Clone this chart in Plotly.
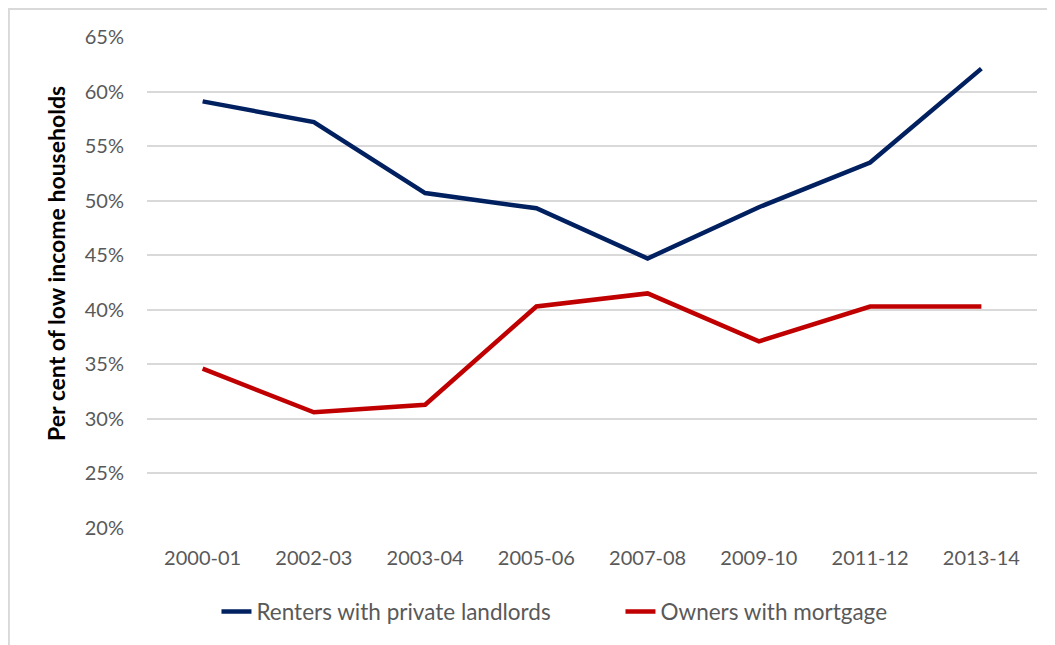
import plotly.graph_objects as go

categories = ["2000-01", "2002-03", "2003-04", "2005-06", "2007-08", "2009-10", "2011-12", "2013-14"]
renters = [0.591, 0.572, 0.507, 0.493, 0.447, 0.494, 0.535, 0.621]
owners = [0.346, 0.306, 0.313, 0.403, 0.415, 0.371, 0.403, 0.403]
y_ticks = [0.20, 0.25, 0.30, 0.35, 0.40, 0.45, 0.50, 0.55, 0.60, 0.65]

# page has an 8px body margin; figure sized to fit window
W, H = 1047, 637
ML, MR, MT, MB = 139, 18, 29, 117
pw, ph = W - ML - MR, H - MT - MB

fig = go.Figure()
fig.add_trace(go.Scatter(x=categories, y=renters, mode="lines", name="Renters with private landlords",
                         line=dict(color="#002060", width=4.5)))
fig.add_trace(go.Scatter(x=categories, y=owners, mode="lines", name="Owners with mortgage",
                         line=dict(color="#C00000", width=4.5)))

font_family = "Lato, Open Sans, Noto Sans, sans-serif"

fig.update_layout(
    width=W, height=H,
    margin=dict(l=ML, r=MR, t=MT, b=MB),
    paper_bgcolor="white", plot_bgcolor="white",
    font=dict(family=font_family, color="#595959", size=20),
    showlegend=True,
    legend=dict(orientation="h", x=0.532, xanchor="center", y=-0.171, yanchor="middle",
                font=dict(size=22.5, color="#595959"), entrywidth=359, tracegroupgap=0),
    xaxis=dict(type="category", range=[-0.5, 7.5], showgrid=False, zeroline=False,
               showline=False, ticks="", tickfont=dict(size=20, color="#595959"),
               ticklabelstandoff=16),
    yaxis=dict(range=[0.20, 0.65], tickvals=y_ticks, tickformat=".0%",
               showgrid=True, gridcolor="#D9D9D9", gridwidth=1.5, zeroline=False,
               showline=False, ticks="", tickfont=dict(size=20, color="#595959"),
               ticklabelstandoff=22),
)

fig.add_annotation(text="<b>Per cent of low income households</b>", xref="paper", yref="paper",
                   x=(48 - ML) / pw, y=(H - MB - 256) / ph, xanchor="center", yanchor="middle",
                   textangle=-90, showarrow=False, font=dict(size=23, color="black", family=font_family))

# outer chart border (cropped on right and bottom in the reference)
fig.add_shape(type="rect", xref="paper", yref="paper", x0=-ML / pw + 0.001, x1=(W + 20 - ML) / pw,
              y0=-(MB + 20) / ph, y1=(H - MB - 1) / ph, line=dict(color="#D9D9D9", width=2),
              fillcolor="rgba(0,0,0,0)", layer="below")

fig.write_html("out.html")
